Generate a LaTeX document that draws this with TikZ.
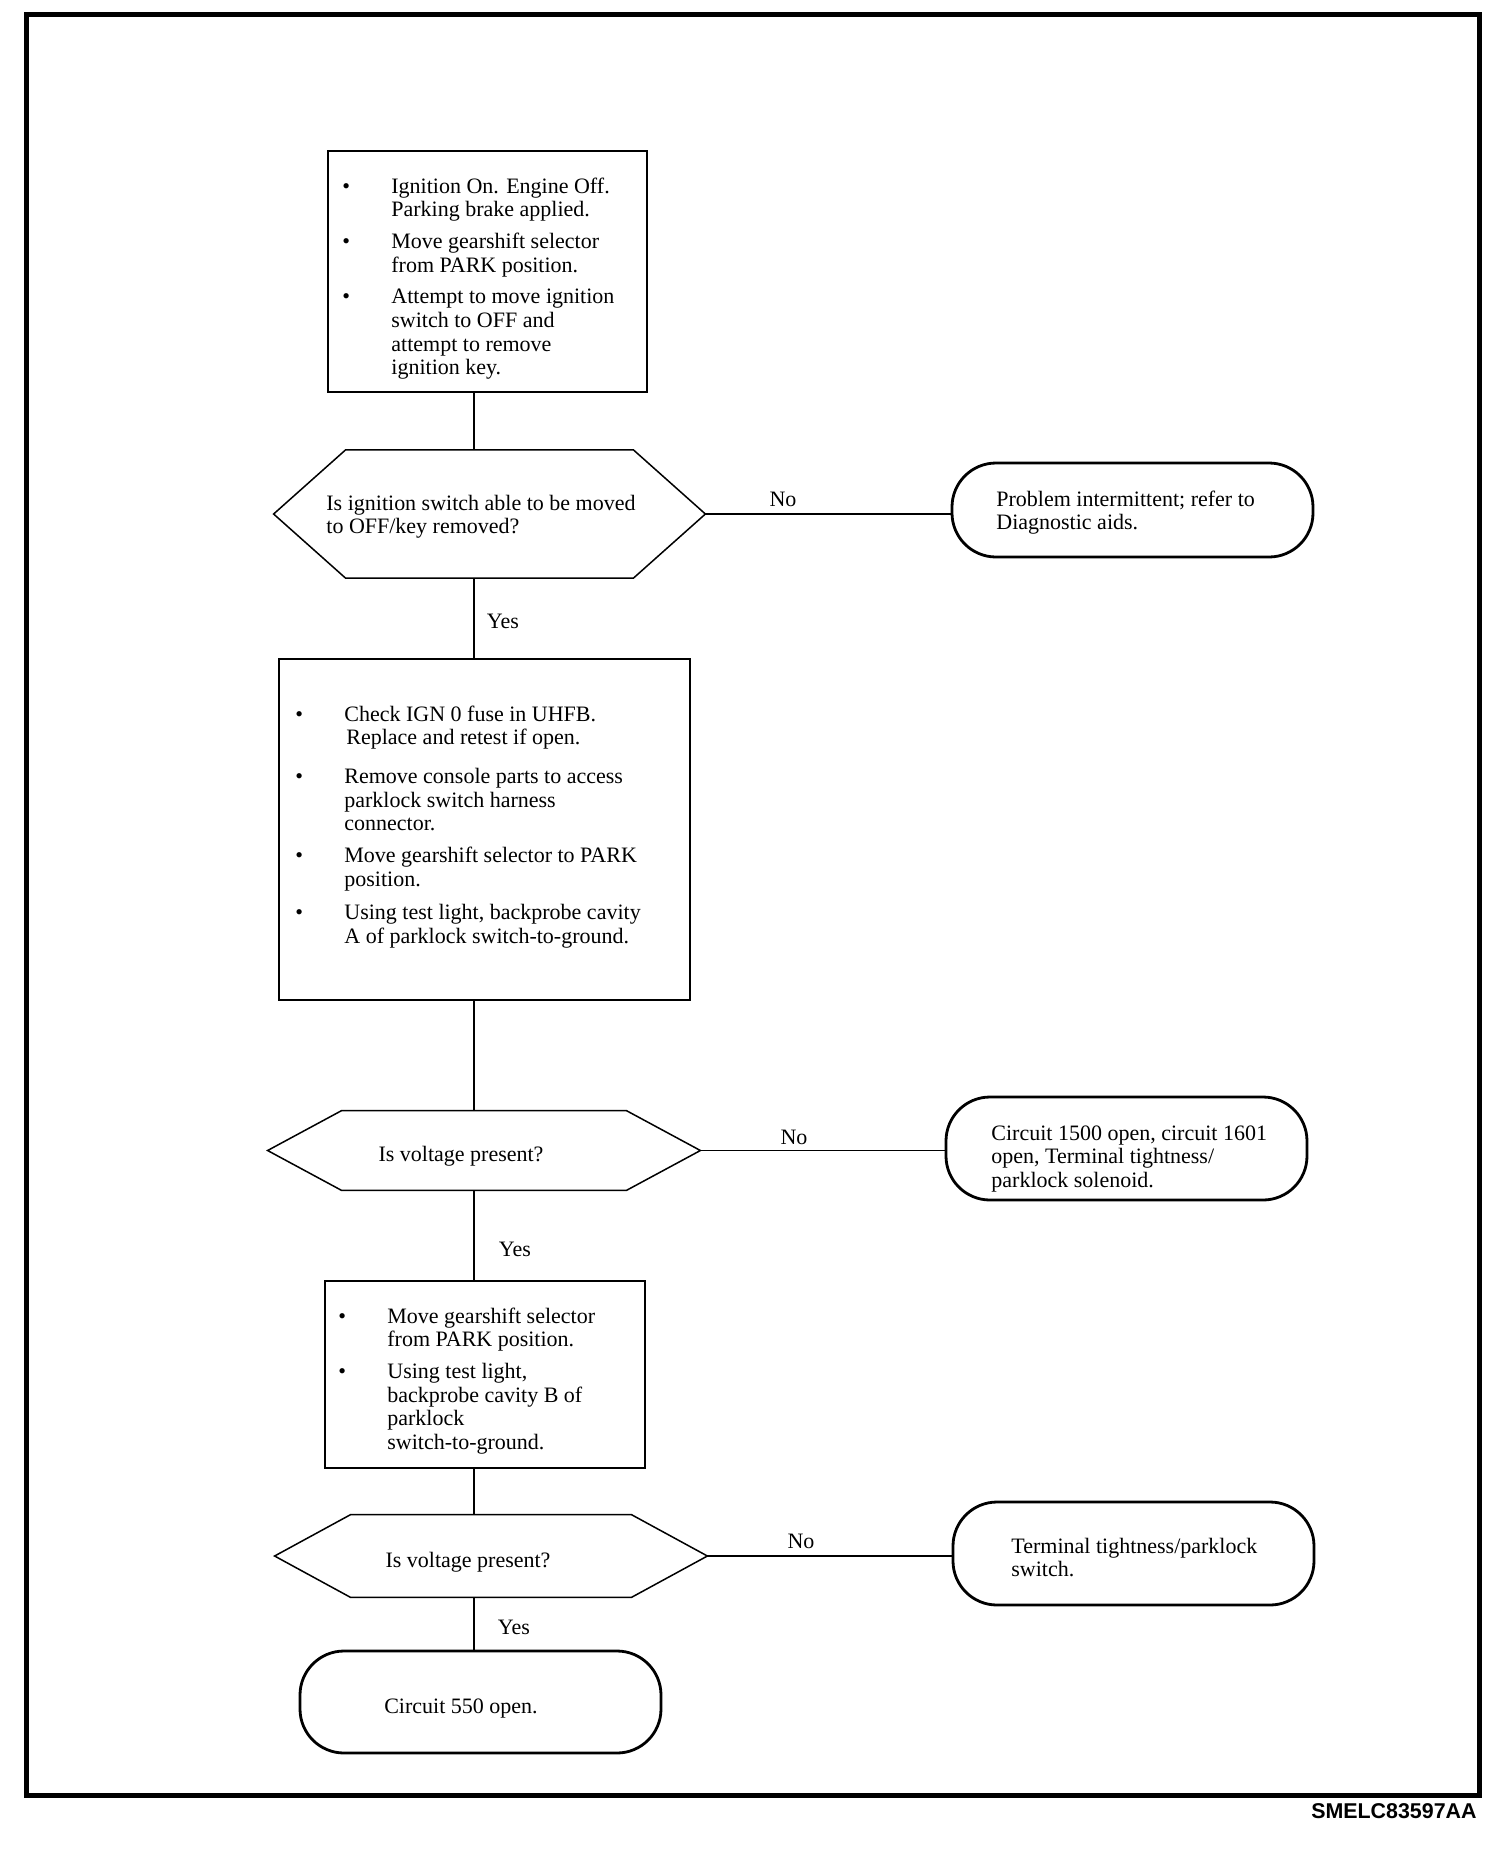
\documentclass[tikz,border=0pt]{standalone}
\usepackage{fontspec}
\setmainfont{Liberation Serif}
\newfontfamily\codefont{Liberation Sans}
\usetikzlibrary{calc}
\newcommand{\hexdraw}[2]{%
  \draw[hexline] (#1.west) -- ($(#1.north west)+(#2,0)$) -- ($(#1.north east)+(-#2,0)$) -- (#1.east) -- ($(#1.south east)+(-#2,0)$) -- ($(#1.south west)+(#2,0)$) -- cycle;}
\begin{document}
\begin{tikzpicture}[x=0.5pt,y=-0.5pt,
  txt/.style={inner sep=0pt, font=\fontsize{11}{11.8}\selectfont},
  stepbox/.style={draw, line width=1pt, rectangle, inner sep=0pt},
  hexguide/.style={rectangle, inner sep=0pt},
  hexline/.style={line width=0.75pt, line join=miter},
  termbox/.style={draw, line width=1.4pt, rectangle, rounded corners=22pt, inner sep=0pt, minimum width=180.5pt},
  conn/.style={line width=0.7pt},
  frameline/.style={line width=2.5pt}]
\useasboundingbox (0,0) rectangle (1504,1854);
\draw[frameline] (26,14) rectangle (1479,1795);
\node[anchor=base east, inner sep=0pt, font=\codefont\bfseries\fontsize{10.7}{12}\selectfont] (code) at (1477,1818) {SMELC83597AA};

\coordinate (spine) at (474,0);

% boxes
\node[stepbox, minimum width=159.5pt, minimum height=120.5pt] (b1) at (487.5,271.5) {};
\node[stepbox, minimum width=205.5pt, minimum height=170.5pt] (b2) at (484.5,829.5) {};
\node[stepbox, minimum width=160pt, minimum height=93.5pt] (b3) at (485,1374.5) {};

% hexagons
\node[hexguide, minimum width=215.5pt, minimum height=63.75pt] (q1) at (489.5,514) {};
\node[hexguide, minimum width=216pt, minimum height=39.5pt] (q2) at (484,1150.5) {};
\node[hexguide, minimum width=216pt, minimum height=41pt] (q3) at (491,1556) {};
\hexdraw{q1}{72}
\hexdraw{q2}{74}
\hexdraw{q3}{76}

% terminals
\node[termbox, minimum height=47pt] (t1) at (1132.5,510) {};
\node[termbox, minimum height=51.5pt] (t2) at (1126.5,1148.5) {};
\node[termbox, minimum height=51.5pt] (t3) at (1133.5,1553.5) {};
\node[termbox, minimum height=51pt] (t4) at (480.5,1702) {};

% connectors
\draw[conn] (b1.south -| spine) -- (q1.north -| spine);
\draw[conn] (q1.south -| spine) -- (b2.north -| spine);
\draw[conn] (b2.south -| spine) -- (q2.north -| spine);
\draw[conn] (q2.south -| spine) -- (b3.north -| spine);
\draw[conn] (b3.south -| spine) -- (q3.north -| spine);
\draw[conn] (q3.south -| spine) -- (t4.north -| spine);
\draw[conn] (q1.east) -- (q1.east -| t1.west);
\draw[conn] (q2.east) -- (q2.east -| t2.west);
\draw[conn] (q3.east) -- (q3.east -| t3.west);

% texts
\node[txt, anchor=base west] (b1t) at (342,193) {\begin{tabular}[t]{@{}p{24.5pt}@{}l@{}}
\textbullet & Ignition On. Engine Off.\\
 & Parking brake applied.\\[4.1pt]
\textbullet & Move gearshift selector\\
 & from PARK position.\\[4.1pt]
\textbullet & Attempt to move ignition\\
 & switch to OFF and\\
 & attempt to remove\\
 & ignition key.
\end{tabular}};

\node[txt, anchor=base west] (b2t) at (295,721) {\begin{tabular}[t]{@{}p{24.5pt}@{}l@{}}
\textbullet & Check IGN 0 fuse in UHFB.\\
 & \hspace{1pt}Replace and retest if open.\\[7.7pt]
\textbullet & Remove console parts to access\\
 & parklock switch harness\\
 & connector.\\[4.2pt]
\textbullet & Move gearshift selector to PARK\\
 & position.\\[4.7pt]
\textbullet & Using test light, backprobe cavity\\
 & A of parklock switch-to-ground.
\end{tabular}};

\node[txt, anchor=base west] (b3t) at (338,1323) {\begin{tabular}[t]{@{}p{24.5pt}@{}l@{}}
\textbullet & Move gearshift selector\\
 & from PARK position.\\[4.1pt]
\textbullet & Using test light,\\
 & backprobe cavity B of\\
 & parklock\\
 & switch-to-ground.
\end{tabular}};

\node[txt, anchor=base west] (q1t) at (326,510) {\begin{tabular}[t]{@{}l@{}}
Is ignition switch able to be moved\\
to OFF/key removed?
\end{tabular}};
\node[txt, anchor=base] (q2t) at (461,1161) {Is voltage present?};
\node[txt, anchor=base] (q3t) at (468,1567) {Is voltage present?};

\node[txt, anchor=base west] (t1t) at (996,506) {\begin{tabular}[t]{@{}l@{}}
Problem intermittent; refer to\\
Diagnostic aids.
\end{tabular}};
\node[txt, anchor=base west] (t2t) at (991,1140) {\begin{tabular}[t]{@{}l@{}}
Circuit 1500 open, circuit 1601\\
open, Terminal tightness/\\
parklock solenoid.
\end{tabular}};
\node[txt, anchor=base west] (t3t) at (1011,1553) {\begin{tabular}[t]{@{}l@{}}
Terminal tightness/parklock\\
switch.
\end{tabular}};
\node[txt, anchor=base] (t4t) at (461,1713) {Circuit 550 open.};

% labels
\node[txt, anchor=base] (no1) at (783,506) {No};
\node[txt, anchor=base] (yes1) at (503,628) {Yes};
\node[txt, anchor=base] (no2) at (794,1144) {No};
\node[txt, anchor=base] (yes2) at (515,1256) {Yes};
\node[txt, anchor=base] (no3) at (801,1548) {No};
\node[txt, anchor=base] (yes3) at (514,1634) {Yes};
\end{tikzpicture}
\end{document}
